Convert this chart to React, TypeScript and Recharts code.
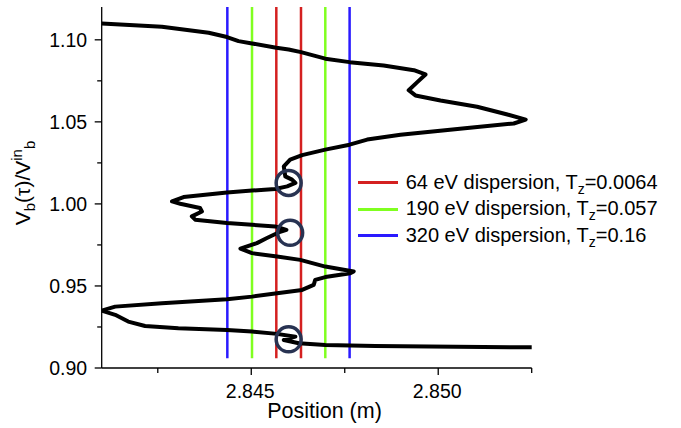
import React from 'react';
import { LineChart, Line, XAxis, YAxis, ReferenceDot, Legend, Label } from 'recharts';

const FONT = '"Liberation Sans", Arial, Helvetica, sans-serif';

// Trajectory (position, normalised voltage)
const curveX = [
  2.841, 2.84261, 2.84386, 2.84435, 2.84466, 2.84502, 2.84567, 2.846, 2.84633, 2.84698,
  2.84763, 2.84854, 2.84935, 2.84966, 2.84944, 2.84921, 2.84939, 2.85006, 2.85104, 2.85185,
  2.85234, 2.85202, 2.85078, 2.84899, 2.8481, 2.84763, 2.84698, 2.84636, 2.84604, 2.84587,
  2.84591, 2.84609, 2.84618, 2.84596, 2.84564, 2.84502, 2.84435, 2.84319, 2.84288, 2.8431,
  2.84363, 2.84368, 2.84341, 2.8435, 2.84435, 2.84502, 2.84564, 2.84594, 2.84573, 2.84542,
  2.84515, 2.84471, 2.84502, 2.84569, 2.84631, 2.84698, 2.84774, 2.84765, 2.84698, 2.84671,
  2.84667, 2.84636, 2.84569, 2.84502, 2.84435, 2.84261, 2.84136, 2.841, 2.84136, 2.84171,
  2.84216, 2.84305, 2.84435, 2.84502, 2.84569, 2.84618, 2.84587, 2.84627, 2.84698, 2.84832,
  2.8525,
];
const curveY = [
  1.11, 1.108, 1.1043, 1.1017, 1.0992, 1.0978, 1.0952, 1.0941, 1.0925, 1.0885,
  1.0864, 1.0844, 1.0815, 1.0789, 1.0742, 1.0693, 1.0661, 1.063, 1.0592, 1.0545,
  1.0514, 1.049, 1.0463, 1.0422, 1.0392, 1.0361, 1.0331, 1.0297, 1.027, 1.0229,
  1.0168, 1.0148, 1.0128, 1.0107, 1.0091, 1.0081, 1.007, 1.0042, 1.0015, 1.0001,
  0.9975, 0.9954, 0.9924, 0.9904, 0.9883, 0.9873, 0.9863, 0.9842, 0.9826, 0.9792,
  0.9761, 0.9727, 0.97, 0.9679, 0.9659, 0.9618, 0.9588, 0.9578, 0.9554, 0.9537,
  0.9507, 0.9476, 0.9456, 0.9435, 0.9419, 0.9395, 0.9374, 0.935, 0.9324, 0.9283,
  0.9256, 0.9242, 0.9232, 0.9222, 0.9208, 0.9191, 0.9171, 0.9151, 0.914, 0.9134,
  0.9126,
];

// Dispersion window edges (vertical lines)
const windowNames = ['64 eV dispersion', '190 eV dispersion', '320 eV dispersion'];
const windowTz = ['0.0064', '0.057', '0.16'];
const windowColors = ['#d42020', '#80ff20', '#2a1aff'];
const windowLeft = [2.84567, 2.84502, 2.84436];
const windowRight = [2.84633, 2.84698, 2.84763];
const windowYBottom = 0.906;
const windowYTop = 1.12;

// Circled fold points
const circleX = [2.846, 2.84604, 2.846];
const circleY = [1.0128, 0.9824, 0.9175];

const xTicks = [2.8425, 2.845, 2.8475, 2.85, 2.8525];
const xTickLabels = ['', '2.845', '', '2.850', ''];
const yTicks = [0.9, 0.925, 0.95, 0.975, 1.0, 1.025, 1.05, 1.075, 1.1];
const yTickLabels = ['0.90', '', '0.95', '', '1.00', '', '1.05', '', '1.10'];

const curve = curveX.map((x, i) => ({ x, y: curveY[i] }));

const W = 681;
const H = 428;
const PLOT_LEFT = 101.7;
const PLOT_TOP = 7;
const PLOT_RIGHT = 531.7;
const PLOT_BOTTOM = 368;

const YTick = (props: any) => {
  const { y, index } = props;
  const label = yTickLabels[index];
  const major = label !== '';
  return (
    <g>
      <line x1={PLOT_LEFT - (major ? 7 : 4.5)} x2={PLOT_LEFT} y1={y} y2={y} stroke="#000" strokeWidth={1.3} />
      {major && (
        <text x={PLOT_LEFT - 14.5} y={y} dy="0.36em" textAnchor="end" fontSize={19.5} fontFamily={FONT} fill="#000">
          {label}
        </text>
      )}
    </g>
  );
};

const XTick = (props: any) => {
  const { x, index } = props;
  const label = xTickLabels[index];
  const major = label !== '';
  return (
    <g>
      <line x1={x} x2={x} y1={PLOT_BOTTOM} y2={PLOT_BOTTOM + (major ? 7 : 5)} stroke="#000" strokeWidth={1.3} />
      {major && (
        <text x={x - 1} y={PLOT_BOTTOM + 23} dy="0.36em" textAnchor="middle" fontSize={19.5} fontFamily={FONT} fill="#000">
          {label}
        </text>
      )}
    </g>
  );
};

const YLabel = () => (
  <text transform="rotate(-90, 30, 183)" x={30} y={183} textAnchor="middle" fontSize={21} fontFamily={FONT} fill="#000">
    V<tspan dy={5} fontSize={15}>b</tspan>
    <tspan dy={-5}>(τ)/V</tspan>
    <tspan dy={-8} fontSize={15}>in</tspan>
    <tspan dy={13} fontSize={15}>b</tspan>
  </text>
);

const XLabel = () => (
  <text x={324.5} y={417.5} textAnchor="middle" fontSize={21.5} fontFamily={FONT} fill="#000">
    Position (m)
  </text>
);

const LegendBox = () => (
  <div style={{ fontFamily: FONT, fontSize: 20, color: '#000' }}>
    {windowNames.map((n, i) => (
      <div key={n} style={{ display: 'flex', alignItems: 'center', height: 26.5 }}>
        <div style={{ width: 40, height: 3, background: windowColors[i], marginRight: 7.7 }} />
        <span style={{ whiteSpace: 'nowrap', lineHeight: '20px' }}>
          {n}, T
          <span style={{ fontSize: 14, position: 'relative', top: 5 }}>z</span>={windowTz[i]}
        </span>
      </div>
    ))}
  </div>
);

export default function App() {
  const edges: { x: number; color: string; key: string }[] = [];
  windowNames.forEach((_, i) => {
    edges.push({ x: windowLeft[i], color: windowColors[i], key: `l${i}` });
    edges.push({ x: windowRight[i], color: windowColors[i], key: `r${i}` });
  });
  return (
    <div style={{ position: 'absolute', left: 0, top: 0, background: '#fff' }}>
      <LineChart
        width={W}
        height={H}
        margin={{ top: PLOT_TOP, right: W - PLOT_RIGHT, bottom: 0, left: PLOT_LEFT - 100 }}
      >
        <XAxis
          type="number"
          dataKey="x"
          domain={[2.841, 2.8525]}
          allowDataOverflow
          ticks={xTicks}
          tick={<XTick />}
          tickLine={false}
          axisLine={{ stroke: '#000', strokeWidth: 1.3 }}
          height={H - PLOT_BOTTOM}
          interval={0}
        >
          <Label content={<XLabel />} />
        </XAxis>
        <YAxis
          type="number"
          dataKey="y"
          domain={[0.9, 1.12]}
          allowDataOverflow
          ticks={yTicks}
          tick={<YTick />}
          tickLine={false}
          axisLine={{ stroke: '#000', strokeWidth: 1.3 }}
          width={100}
          interval={0}
        >
          <Label content={<YLabel />} />
        </YAxis>
        {edges.map((e) => (
          <Line
            key={e.key}
            data={[
              { x: e.x, y: windowYBottom },
              { x: e.x, y: windowYTop },
            ]}
            dataKey="y"
            stroke={e.color}
            strokeWidth={2.5}
            dot={false}
            isAnimationActive={false}
            legendType="none"
          />
        ))}
        <Line
          data={curve}
          dataKey="y"
          type="linear"
          stroke="#000"
          strokeWidth={4}
          strokeLinejoin="round"
          strokeLinecap="round"
          dot={false}
          isAnimationActive={false}
          legendType="none"
        />
        {circleX.map((cx, i) => (
          <ReferenceDot
            key={i}
            x={cx}
            y={circleY[i]}
            r={12.5}
            fill="none"
            stroke="#283352"
            strokeWidth={3.5}
            ifOverflow="visible"
          />
        ))}
        <Legend
          layout="horizontal"
          verticalAlign="middle"
          align="center"
          content={<LegendBox />}
          wrapperStyle={{ left: 358, top: 169.5, width: 320 }}
        />
      </LineChart>
    </div>
  );
}
